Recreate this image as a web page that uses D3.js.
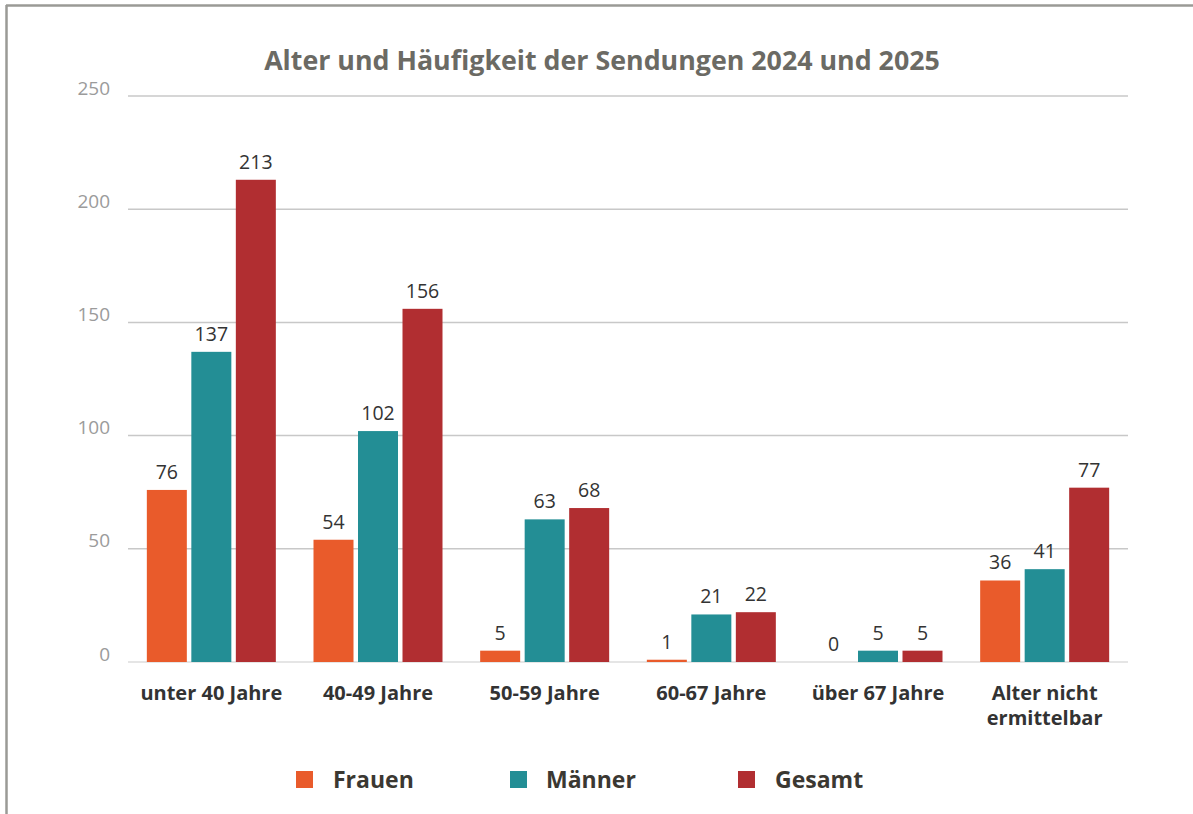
<!DOCTYPE html>
<html lang="de">
<head>
<meta charset="utf-8">
<script src="https://cdn.jsdelivr.net/npm/d3@7"></script>
<style>
  html, body { margin: 0; padding: 0; background: #fff; }
  svg { display: block; font-family: "Open Sans", "Noto Sans", sans-serif; }
</style>
</head>
<body>
<svg id="chart" width="1193" height="814"></svg>
<script>
// Age groups (two-line labels split with "\n")
const categories = ["unter 40 Jahre", "40-49 Jahre", "50-59 Jahre", "60-67 Jahre", "über 67 Jahre", "Alter nicht\nermittelbar"];
const seriesNames = ["Frauen", "Männer", "Gesamt"];
const frauen = [76, 54, 5, 1, 0, 36];
const maenner = [137, 102, 63, 21, 5, 41];
const gesamt = [213, 156, 68, 22, 5, 77];
const yTicks = [0, 50, 100, 150, 200, 250];
const colors = ["#E95B2B", "#238E95", "#B12E31"];

const seriesValues = [frauen, maenner, gesamt];
const svg = d3.select("#chart");
const W = 1193, H = 814;

// Frame: top and left rules
svg.append("line").attr("x1", 6).attr("x2", W).attr("y1", 5.5).attr("y2", 5.5)
  .attr("stroke", "#9a9a96").attr("stroke-width", 2.5);
svg.append("line").attr("x1", 6.5).attr("x2", 6.5).attr("y1", 5).attr("y2", H)
  .attr("stroke", "#9a9a96").attr("stroke-width", 2.5);

const plot = { left: 128, right: 1128, top: 96, bottom: 662 };

const x0 = d3.scaleBand().domain(categories).range([plot.left, plot.right]).padding(0);
const y = d3.scaleLinear().domain([0, 250]).range([plot.bottom, plot.top]);

const barW = 40, barStep = 44.5;

// Gridlines
svg.append("g").selectAll("line").data(yTicks).join("line")
  .attr("x1", plot.left).attr("x2", plot.right)
  .attr("y1", d => y(d)).attr("y2", d => y(d))
  .attr("stroke", d => d === 0 ? "#dcdcdc" : "#c8c8c8").attr("stroke-width", 1.5);

// Y axis labels
const yAxis = d3.axisLeft(y).tickValues(yTicks).tickSize(0).tickPadding(0);
const yg = svg.append("g").attr("transform", `translate(110,-8)`).call(yAxis);
yg.select(".domain").remove();
yg.selectAll("text").attr("fill", "#9b9b9b").style("font-size", "19px")
  .style("font-family", "'Open Sans', sans-serif");

// Bars and value labels
seriesValues.forEach((vals, si) => {
  const g = svg.append("g");
  const cx = (d, i) => x0(categories[i]) + x0.bandwidth() / 2 + (si - 1) * barStep;
  g.selectAll("rect").data(vals).join("rect")
    .attr("x", (d, i) => cx(d, i) - barW / 2)
    .attr("width", barW)
    .attr("y", d => y(d))
    .attr("height", d => y(0) - y(d))
    .attr("fill", colors[si]);
  g.selectAll("text").data(vals).join("text")
    .attr("x", (d, i) => cx(d, i))
    .attr("y", d => y(d) - 11)
    .attr("text-anchor", "middle")
    .attr("fill", "#333")
    .style("font-size", "19.5px")
    .text(d => d);
});

// Category labels
const xg = svg.append("g");
categories.forEach(c => {
  const lines = c.split("\n");
  const t = xg.append("text")
    .attr("x", x0(c) + x0.bandwidth() / 2)
    .attr("y", 700)
    .attr("text-anchor", "middle")
    .attr("fill", "#333")
    .style("font-size", "20px").style("font-weight", "bold");
  lines.forEach((l, i) => {
    t.append("tspan").attr("x", x0(c) + x0.bandwidth() / 2).attr("dy", i === 0 ? 0 : 25).text(l);
  });
});

// Title
const title = svg.append("text")
  .attr("x", 602).attr("y", 70)
  .attr("text-anchor", "middle")
  .attr("fill", "#6b6a64")
  .style("font-size", "24px").style("font-weight", "bold")
  .text("Alter und Häufigkeit der Sendungen 2024 und 2025");
const tw = title.node().getComputedTextLength();
title.style("font-size", (24 * 676 / tw).toFixed(2) + "px");

// Legend
const legendX = [296, 510, 738];
const legendTextX = [333, 546, 775];
const lg = svg.append("g");
seriesNames.forEach((name, i) => {
  lg.append("rect").attr("x", legendX[i]).attr("y", 771).attr("width", 17).attr("height", 17)
    .attr("fill", colors[i]);
  lg.append("text").attr("x", legendTextX[i]).attr("y", 788)
    .attr("fill", "#3b3832")
    .style("font-size", "23px").style("font-weight", "bold")
    .text(name);
});
</script>
</body>
</html>
